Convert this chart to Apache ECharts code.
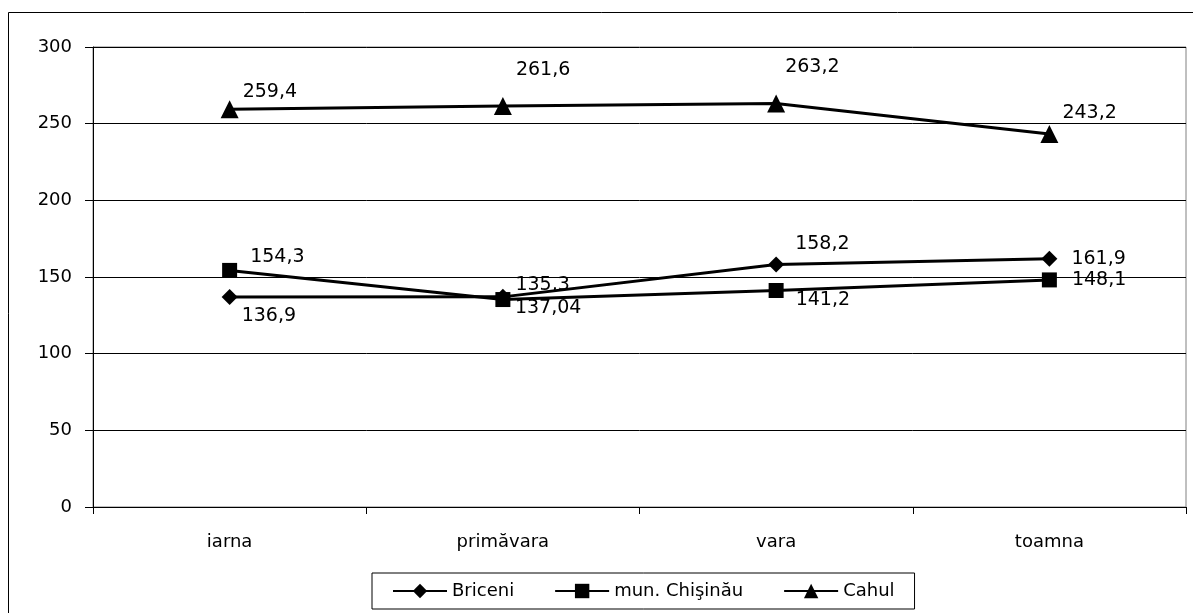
<!DOCTYPE html>
<html>
<head>
<meta charset="utf-8">
<script src="https://cdn.jsdelivr.net/npm/echarts@6/dist/echarts.min.js"></script>
<style>html,body{margin:0;padding:0;background:#fff}#c{width:1193px;height:613px}</style>
</head>
<body>
<div id="c"></div>
<script>
const categories = ['iarna', 'primăvara', 'vara', 'toamna'];
const briceni = [136.9, 137.04, 158.2, 161.9];
const chisinau = [154.3, 135.3, 141.2, 148.1];
const cahul = [259.4, 261.6, 263.2, 243.2];
const seriesNames = ['Briceni', 'mun. Chişinău', 'Cahul'];
const yTicks = [0, 50, 100, 150, 200, 250, 300];

// label offsets (style only)
const offB = [[-1, 19], [-1, 11], [6, -20], [9, 0]];
const offC = [[8, -13], [0, -14], [7, 10], [10, 0]];
const offH = [[-1, -17], [-1, -36], [-5, -36], [-1, -21]];

const FONT = 'DejaVu Sans';
function fmt(v) { return String(v).replace('.', ','); }
function mk(vals, offs) {
  return vals.map((v, i) => ({
    value: v,
    label: { show: true, position: 'right', offset: offs[i], formatter: p => fmt(p.value),
      color: '#000', fontFamily: FONT, fontSize: 19 }
  }));
}
function ser(name, vals, offs, symbol, size) {
  return {
    name, type: 'line', data: mk(vals, offs), symbol, symbolSize: size,
    lineStyle: { color: '#000', width: 3 }, itemStyle: { color: '#000' },
    emphasis: { disabled: true }, animation: false, z: 3
  };
}
const chart = echarts.init(document.getElementById('c'));
chart.setOption({
  animation: false,
  backgroundColor: '#fff',
  graphic: [{ type: 'rect', shape: { x: 8.5, y: 12.5, width: 1200, height: 620 },
    style: { fill: 'none', stroke: '#000', lineWidth: 1 }, silent: true }],
  grid: { left: 93, right: 7, top: 47, bottom: 106, show: true, borderColor: '#808080', borderWidth: 1 },
  xAxis: {
    type: 'category', data: categories, boundaryGap: true,
    axisLine: { lineStyle: { color: '#000', width: 1 } },
    axisTick: { show: true, length: 7, inside: false, lineStyle: { color: '#000' } },
    axisLabel: { color: '#000', fontFamily: FONT, fontSize: 18, margin: 26 }
  },
  yAxis: {
    type: 'value', min: yTicks[0], max: yTicks[yTicks.length - 1], interval: 50,
    axisLine: { show: true, lineStyle: { color: '#000', width: 1 } },
    axisTick: { show: true, length: 8, lineStyle: { color: '#000' } },
    splitLine: { show: true, lineStyle: { color: '#000', width: 1 } },
    axisLabel: { color: '#000', fontFamily: FONT, fontSize: 18, margin: 21 }
  },
  legend: {
    data: seriesNames, left: 372, top: 573, orient: 'horizontal',
    itemWidth: 54, itemHeight: 18, itemGap: 40,
    borderColor: '#000', borderWidth: 1, padding: [9, 20, 9, 20],
    textStyle: { color: '#000', fontFamily: FONT, fontSize: 18 }
  },
  series: [
    ser(seriesNames[0], briceni, offB, 'diamond', 16),
    ser(seriesNames[1], chisinau, offC, 'rect', 15),
    ser(seriesNames[2], cahul, offH, 'triangle', 18)
  ]
});
</script>
</body>
</html>
